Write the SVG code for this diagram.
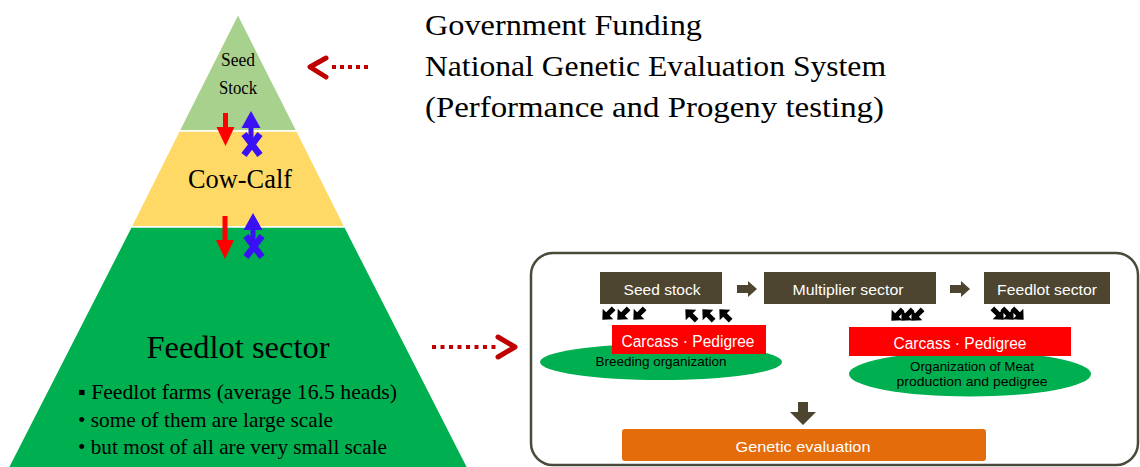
<svg xmlns="http://www.w3.org/2000/svg" xmlns:xlink="http://www.w3.org/1999/xlink" width="1140" height="467" viewBox="0 0 1140 467">
<style>
.serif{font-family:"Liberation Serif","DejaVu Serif",serif;fill:#000}
.sans{font-family:"Liberation Sans","DejaVu Sans",sans-serif}
.wt{fill:#fff}
.bk{fill:#000}
.dark{fill:#4d452f}
.dot{fill:#c00000}
.chev{fill:none;stroke:#c00000;stroke-width:5;stroke-linecap:round;stroke-linejoin:round}
</style>
<defs>
<path id="sa" d="M0,-8 L7.5,0 L2.6,0 L2.6,8 L-2.6,8 L-2.6,0 L-7.5,0 Z" fill="#000"/>
<g id="blue">
<polygon points="0,0 9.5,17 -9.5,17" fill="#3a10f5"/>
<rect x="-2.5" y="15" width="5" height="16" fill="#3a10f5"/>
<line x1="-7" y1="23" x2="9" y2="44" stroke="#3a10f5" stroke-width="6.5"/>
<line x1="9" y1="23" x2="-7" y2="44" stroke="#3a10f5" stroke-width="6.5"/>
</g>
</defs>
<rect width="1140" height="467" fill="#fff"/>

<g id="seed-stock">
<polygon points="238,14 297,131 179,131" fill="#a9d18e" stroke="#fff" stroke-width="1.5"/>
<text class="serif" x="238" y="66" font-size="18" text-anchor="middle" textLength="34" lengthAdjust="spacingAndGlyphs">Seed</text>
<text class="serif" x="238" y="94" font-size="18" text-anchor="middle" textLength="38" lengthAdjust="spacingAndGlyphs">Stock</text>
</g>
<g id="cow-calf">
<polygon points="179,131 297,131 345,227 131,227" fill="#ffd966" stroke="#fff" stroke-width="1.5"/>
<text class="serif" x="240" y="188" font-size="28" text-anchor="middle" textLength="104" lengthAdjust="spacingAndGlyphs">Cow-Calf</text>
</g>
<g id="feedlot">
<polygon points="131,227 345,227 469,470 7,470" fill="#00b050" stroke="#fff" stroke-width="1.5"/>
<text class="serif" x="238" y="358" font-size="32" text-anchor="middle" textLength="183" lengthAdjust="spacingAndGlyphs">Feedlot sector</text>
<text class="serif" x="78" y="399" font-size="21" textLength="319" lengthAdjust="spacingAndGlyphs">▪ Feedlot farms (average 16.5 heads)</text>
<text class="serif" x="78" y="427" font-size="21" textLength="255" lengthAdjust="spacingAndGlyphs">• some of them are large scale</text>
<text class="serif" x="78" y="454" font-size="21" textLength="309" lengthAdjust="spacingAndGlyphs">• but most of all are very small scale</text>
</g>

<g id="title">
<text class="serif" x="425" y="35" font-size="30" textLength="277" lengthAdjust="spacingAndGlyphs">Government Funding</text>
<text class="serif" x="425" y="76" font-size="30" textLength="461" lengthAdjust="spacingAndGlyphs">National Genetic Evaluation System</text>
<text class="serif" x="425" y="117" font-size="30" textLength="459" lengthAdjust="spacingAndGlyphs">(Performance and Progeny testing)</text>
</g>

<g id="panel">
<rect x="531" y="253" width="607" height="212" rx="22" fill="#fff" stroke="#4a4a3a" stroke-width="2.5"/>
</g>
<g id="box-seed">
<rect class="dark" x="600" y="272" width="122" height="32"/>
<text class="sans wt" x="662" y="295" font-size="15" text-anchor="middle" textLength="77" lengthAdjust="spacingAndGlyphs">Seed stock</text>
</g>
<g id="box-multiplier">
<rect class="dark" x="764" y="272" width="172" height="32"/>
<text class="sans wt" x="848" y="295" font-size="15" text-anchor="middle" textLength="111" lengthAdjust="spacingAndGlyphs">Multiplier sector</text>
</g>
<g id="box-feedlot">
<rect class="dark" x="984" y="272" width="126" height="32"/>
<text class="sans wt" x="1047" y="295" font-size="15" text-anchor="middle" textLength="100" lengthAdjust="spacingAndGlyphs">Feedlot sector</text>
</g>
<g id="org-breeding">
<ellipse cx="661" cy="362" rx="121" ry="18" fill="#00b050"/>
<rect x="612" y="325" width="154" height="29" fill="#ff0000"/>
<text class="sans wt" x="688" y="347" font-size="16" text-anchor="middle" textLength="133" lengthAdjust="spacingAndGlyphs">Carcass · Pedigree</text>
<text class="sans bk" x="661" y="366" font-size="12" text-anchor="middle" textLength="131" lengthAdjust="spacingAndGlyphs">Breeding organization</text>
</g>
<g id="org-meat">
<ellipse cx="970" cy="374" rx="121" ry="22.5" fill="#00b050"/>
<rect x="849" y="327" width="222" height="29" fill="#ff0000"/>
<text class="sans wt" x="960" y="349" font-size="16" text-anchor="middle" textLength="133" lengthAdjust="spacingAndGlyphs">Carcass · Pedigree</text>
<text class="sans bk" x="972" y="371" font-size="12" text-anchor="middle" textLength="124" lengthAdjust="spacingAndGlyphs">Organization of Meat</text>
<text class="sans bk" x="972" y="386" font-size="12" text-anchor="middle" textLength="151" lengthAdjust="spacingAndGlyphs">production and pedigree</text>
</g>
<g id="genetic-evaluation">
<rect x="622" y="429" width="364" height="32" rx="3" fill="#e46c0a"/>
<text class="sans wt" x="803" y="452" font-size="15" text-anchor="middle" textLength="135" lengthAdjust="spacingAndGlyphs">Genetic evaluation</text>
</g>

<g id="connectors">
<g fill="#ff0000">
<rect x="223" y="113" width="5" height="16"/>
<polygon points="216.5,127 234.5,127 225.5,146"/>
<rect x="222.5" y="216" width="5" height="26"/>
<polygon points="216,240 234,240 225,259"/>
</g>
<use xlink:href="#blue" transform="translate(251,111)"/>
<use xlink:href="#blue" transform="translate(253,213)"/>
<polyline class="chev" points="326,58 310,67 326,77"/>
<g class="dot">
<rect x="332" y="65" width="4" height="4"/>
<rect x="340" y="65" width="4" height="4"/>
<rect x="348" y="65" width="4" height="4"/>
<rect x="356" y="65" width="4" height="4"/>
<rect x="364" y="65" width="4" height="4"/>
</g>
<polyline class="chev" points="498,337 515,347 498,357"/>
<g class="dot">
<rect x="432" y="345" width="4" height="4"/>
<rect x="440.5" y="345" width="4" height="4"/>
<rect x="449" y="345" width="4" height="4"/>
<rect x="457.5" y="345" width="4" height="4"/>
<rect x="466" y="345" width="4" height="4"/>
<rect x="474.5" y="345" width="4" height="4"/>
<rect x="483" y="345" width="4" height="4"/>
<rect x="491.5" y="345" width="4" height="4"/>
</g>
<polygon class="dark" points="737,285 748,285 748,281 757,289 748,297 748,293 737,293"/>
<polygon class="dark" points="950,285 961,285 961,281 970,289 961,297 961,293 950,293"/>
<polygon class="dark" points="798,402 808,402 808,412 816,412 803,425 790,412 798,412"/>
<use xlink:href="#sa" transform="translate(608,314) rotate(-135)"/>
<use xlink:href="#sa" transform="translate(623,314) rotate(-135)"/>
<use xlink:href="#sa" transform="translate(639,314) rotate(-135)"/>
<use xlink:href="#sa" transform="translate(691,315) rotate(-45)"/>
<use xlink:href="#sa" transform="translate(708,315) rotate(-45)"/>
<use xlink:href="#sa" transform="translate(725,315) rotate(-45)"/>
<use xlink:href="#sa" transform="translate(897,315) rotate(-135)"/>
<use xlink:href="#sa" transform="translate(907,315) rotate(-135)"/>
<use xlink:href="#sa" transform="translate(917,315) rotate(-135)"/>
<use xlink:href="#sa" transform="translate(998,314) rotate(135)"/>
<use xlink:href="#sa" transform="translate(1008,314) rotate(135)"/>
<use xlink:href="#sa" transform="translate(1018,314) rotate(135)"/>
</g>
</svg>
